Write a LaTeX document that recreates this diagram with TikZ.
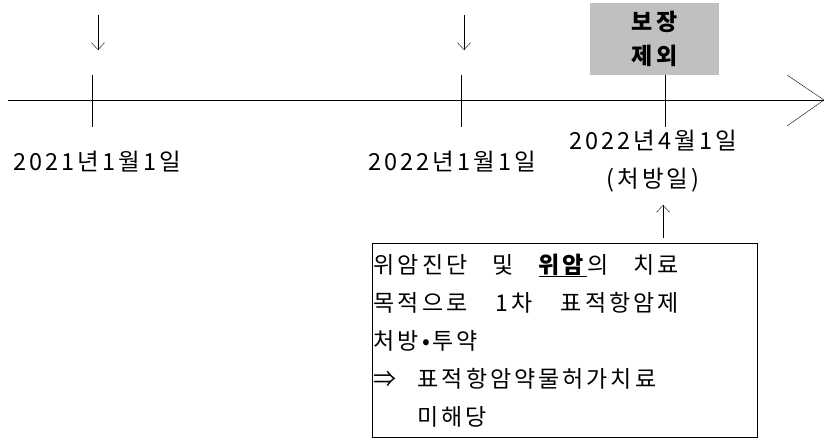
\documentclass[tikz,border=0pt]{standalone}
\usepackage{fontspec}
\setmainfont{Noto Sans CJK KR}[LetterSpace=13]
\usetikzlibrary{arrows.meta}
\definecolor{boxgray}{RGB}{192,192,192}
\newcommand{\jline}[1]{\makebox[305pt][l]{#1}}
\newcommand{\hang}[1]{\makebox[44pt][l]{#1}}

\begin{document}
\begin{tikzpicture}[x=1pt,y=-1pt,>={Straight Barb[length=7pt,width=13pt]},
  every node/.style={inner sep=0pt},
  datelbl/.style={font=\fontsize{23.5}{38}\selectfont, align=center}]
\useasboundingbox (0,0) rectangle (824,439);
% time axis
\coordinate (axs) at (8,100);
\coordinate (axe) at (824,100);
\draw (axs) -- (axe);
\draw (787,75) -- (axe) -- (787,126);
% ticks
\coordinate (t1) at (92,100);
\coordinate (t2) at (461,100);
\coordinate (t3) at (665,100);
\foreach \t in {t1,t2}{\draw ([yshift=25]\t) -- ([yshift=-27]\t);}
\node[fill=boxgray, minimum width=129, minimum height=72, anchor=north, align=center,
  font=\fontsize{23}{34}\selectfont\bfseries] (excl) at (654.5,3) {보장\\제외};
\draw (t3 |- excl.south) -- ([yshift=-27]t3);
% down arrows
\coordinate (d1) at (98,15);
\coordinate (d2) at (464,15);
\draw[->] (d1) -- ++(0,35);
\draw[->] (d2) -- ++(0,35);
% dates
\node[datelbl] (date1) at (97,162) {2021년1월1일};
\node[datelbl] (date2) at (452,162) {2022년1월1일};
\node[datelbl] (date3) at (653,161) {2022년4월1일\\(처방일)};
% note
\node[draw, anchor=north west, minimum width=385, minimum height=194, text width=382,
  align=left, inner xsep=1.5pt, font=\fontsize{23}{38}\selectfont] (note) at (372,243)
  {\jline{위암진단\hfill 및\hfill \underline{\textbf{위암}}의\hfill 치료}\\
   \jline{목적으로\hfill 1차\hfill 표적항암제}\\
   처방•투약\\
   \hang{⇒}표적항암약물허가치료\\
   \hang{}미해당};
\coordinate (up) at (663,238);
\draw[->] (up) -- ++(0,-33);
\end{tikzpicture}
\end{document}
